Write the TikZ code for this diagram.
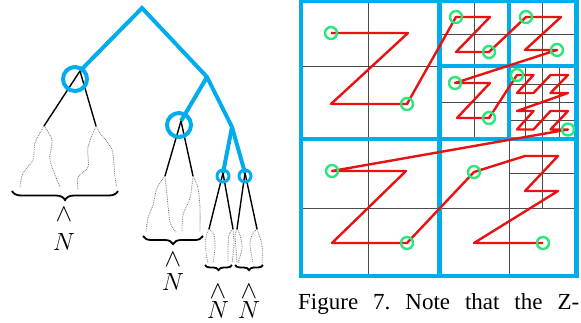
\documentclass[tikz,border=0pt]{standalone}
\usepackage{amsmath}
\usepackage{amssymb}
\usepackage{xcolor}
\usepackage{fontspec}
\usepackage{tikz}
\usetikzlibrary{arrows.meta,shapes,calc,decorations.pathreplacing}

\newfontfamily\captionserif{Liberation Serif}
\definecolor{treeblue}{RGB}{0,172,236}
\definecolor{zred}{RGB}{232,18,18}
\definecolor{zgreen}{RGB}{44,230,124}

\begin{document}
\begin{tikzpicture}[x=1pt,y=-1pt]
            \tikzset{bigring/.style = {circle,draw=treeblue,line width=4pt,minimum size=24pt,inner sep=0pt}}
            \tikzset{smallring/.style = {circle,draw=treeblue,line width=3pt,minimum size=12pt,inner sep=0pt}}
            \tikzset{blueedge/.style = {draw=treeblue,line width=4pt}}
            \tikzset{edge/.style = {line width=1.4pt}}
            \tikzset{strand/.style = {densely dotted,black!55,line width=0.8pt}}
            \tikzset{leafbrace/.style = {decorate,decoration={brace,amplitude=#1},line width=1.8pt}}
            \tikzset{lab/.style = {inner sep=0pt,font={\fontsize{24}{28}\selectfont}}}
            \tikzset{hat/.style = {inner sep=0pt,font={\fontsize{30}{33}\selectfont}}}
            \tikzset{cellline/.style = {black!70,line width=0.9pt}}
            \tikzset{quadline/.style = {draw=treeblue,line width=4.5pt}}
            \tikzset{zcurve/.style = {zred,line width=2.4pt,line join=round}}
            \tikzset{zmark/.style = {circle,draw=zgreen,line width=2.4pt,minimum size=12pt,inner sep=0pt}}

            \useasboundingbox (0,0) rectangle (581,322);

            % vertices
            \coordinate (root) at (142,8);
            \coordinate (a) at (80,71);
            \coordinate (b) at (207,77);
            \coordinate (c) at (181,121);
            \coordinate (d) at (232,127);
            \coordinate (e) at (223,173);
            \coordinate (f) at (245,173);
            \foreach \n/\x/\y in {a1/44/126, a2/96/126, c1/165/176, c2/193/176, e1/209/229, e2/233/229, f1/237/229, f2/257/229}
            {
              \coordinate (\n) at (\x,\y);
            }

            % edges
            \draw[blueedge] (a) -- (root) -- (b) -- (d) -- (f);
            \foreach \u/\v in {b/c, d/e} {\draw[blueedge] (\u) to (\v);}
            \foreach \u/\v in {a/a1, a/a2, c/c1, c/c2, e/e1, e/e2, f/f1, f/f2} {\draw[edge] (\u) to (\v);}

            \node[bigring] (ra) at (75,79) {};
            \node[bigring] (rc) at (179,125) {};
            \node[smallring] (re) at (223,176) {};
            \node[smallring] (rf) at (245,176) {};

            % strands
            \draw[strand] plot[smooth] coordinates {(a1) (35,143) (33,160) (23,173) (20,187)};
            \draw[strand] plot[smooth] coordinates {(a1) (52,140) (50,160) (60,187)};
            \draw[strand] plot[smooth] coordinates {(a2) (88,147) (88,167) (78,177) (78,190)};
            \draw[strand] plot[smooth] coordinates {(a2) (100,133) (112,150) (115,177) (117,187)};
            \draw[strand] plot[smooth] coordinates {(c1) (157,188) (153,205) (148,218) (146,232)};
            \draw[strand] plot[smooth] coordinates {(c1) (167,195) (170,222) (176,232)};
            \draw[strand] plot[smooth] coordinates {(c2) (190,198) (183,215) (182,232)};
            \draw[strand] plot[smooth] coordinates {(c2) (198,188) (200,208) (200,232)};
            \draw[strand] plot[smooth] coordinates {(e1) (206,237) (206,252) (208,263)};
            \draw[strand] plot[smooth] coordinates {(e1) (214,235) (215,248) (213,263)};
            \draw[strand] plot[smooth] coordinates {(e2) (229,235) (228,248) (228,262)};
            \draw[strand] plot[smooth] coordinates {(e2) (234,245) (232,263)};
            \draw[strand] plot[smooth] coordinates {(f1) (235,235) (236,248) (237,263)};
            \draw[strand] plot[smooth] coordinates {(f1) (240,235) (242,248) (238,263)};
            \draw[strand] plot[smooth] coordinates {(f2) (252,235) (250,245) (253,263)};
            \draw[strand] plot[smooth] coordinates {(f2) (258,232) (262,245) (262,263)};

            % braces
            \draw[leafbrace=9pt] (118,191) -- (12,191);
            \draw[leafbrace=8pt] (203,236) -- (143,236);
            \draw[leafbrace=5pt] (232,265) -- (205,265);
            \draw[leafbrace=5pt] (263,265) -- (235,265);

            % labels
            \node[hat] (wa) at (64,215) {$\wedge$};
            \node[lab] (na) at (64,242) {$N$};
            \node[hat] (wc) at (173,260) {$\wedge$};
            \node[lab] (nc) at (173,282) {$N$};
            \node[hat] (we) at (218,292) {$\wedge$};
            \node[lab] (ne) at (218,310) {$N$};
            \node[hat] (wf) at (249,292) {$\wedge$};
            \node[lab] (nf) at (249,310) {$N$};

            % quadtree cells
            \draw[cellline] (368,1) -- (368,276) (301,66) -- (439.5,66) (301,208) -- (576.5,208);
            \draw[cellline] (474,1) -- (474,139) (542,1) -- (542,208) (509,139) -- (509,276);
            \draw[cellline] (439.5,34) -- (576.5,34) (439.5,102) -- (576.5,102) (509,173) -- (576.5,173);
            \foreach \x in {525,559} {\draw[cellline] (\x,66) -- (\x,139);}
            \foreach \y in {84,120} {\draw[cellline] (509,\y) -- (576.5,\y);}

            \draw[quadline] (301,1) rectangle (576.5,276);
            \draw[quadline] (439.5,1) -- (439.5,276) (301,139) -- (576.5,139);
            \draw[quadline] (509,1) -- (509,139) (439.5,66) -- (576.5,66);

            % z-order curve
            \draw[zcurve] (331,33) -- (408,33) -- (331,104) -- (407,104)
              -- (456,17) -- (490,17) -- (456,52) -- (489,52)
              -- (526,17) -- (561,17) -- (525,50) -- (557,50)
              -- (455,83) -- (490,83) -- (457,118) -- (489,118)
              -- (517,75) -- (533.5,75) -- (517,93) -- (533.5,93)
              -- (550.5,75) -- (568,75) -- (550.5,93) -- (568,93)
              -- (517,111) -- (533.5,111) -- (517,129.5) -- (533.5,129.5)
              -- (550.5,111) -- (568,111) -- (550.5,129.5) -- (568,129.5)
              -- (332,171) -- (406,171) -- (332,243) -- (407,243)
              -- (474,172) -- (525,156) -- (558,156) -- (525,191) -- (558,191)
              -- (474,243) -- (543,243);

            \foreach \x/\y [count=\i] in {331/33, 407/104, 456/17, 489/52, 526/17, 557/50, 455/83, 489/118, 517/75, 568/129.5, 332/171, 407/243, 474/172, 543/243}
            {
              \node[zmark] (m\i) at (\x,\y) {};
            }

            % caption
            \node[anchor=base west,inner sep=0pt] (caption) at (298,309)
              {\captionserif\fontsize{23}{27}\selectfont\frenchspacing\makebox[281pt][s]{Figure 7. Note that the Z-}};
\end{tikzpicture}
\end{document}
